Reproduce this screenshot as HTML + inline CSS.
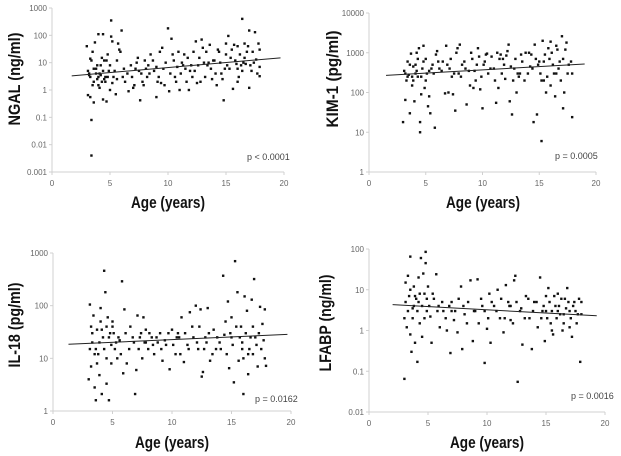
<!DOCTYPE html>
<html><head><meta charset="utf-8"><style>
html,body{margin:0;padding:0;background:#fff;}
svg{display:block;font-family:"Liberation Sans",sans-serif;}
</style></head><body>
<svg id="fig" width="621" height="456" viewBox="0 0 621 456" xmlns="http://www.w3.org/2000/svg"></svg>
<script>
const xTicks=[0,5,10,15,20];
const ngalAge=[3.0,3.1,3.2,3.3,3.3,3.4,3.4,3.5,3.5,3.6,3.7,3.8,3.9,4.0,4.0,4.1,4.2,4.3,4.4,4.4,4.5,4.6,4.7,4.8,4.9,5.0,5.1,5.1,5.2,5.3,5.5,5.6,5.7,5.9,6.0,6.1,6.3,6.6,6.8,7.0,7.2,7.4,7.6,7.7,7.9,8.0,8.2,8.5,8.8,9.0,9.1,9.3,9.5,9.7,9.8,10.0,10.1,10.3,10.4,10.6,10.8,11.0,11.2,11.4,11.6,11.8,12.0,12.2,12.4,12.5,12.7,12.9,13.0,13.2,13.4,13.6,13.8,14.0,14.2,14.4,14.6,14.8,15.0,15.2,15.3,15.5,15.6,15.8,16.0,16.1,16.3,16.4,16.6,16.8,17.0,17.0,17.2,17.4,17.5,17.8,17.9,17.9,3.2,3.6,4.1,4.3,4.6,5.4,6.5,8.3,11.5,13.5,15.9,16.5,17.6,14.9,12.3,
3.1,3.3,3.4,3.6,3.8,3.9,4.0,4.2,4.4,4.5,4.7,4.8,5.0,5.2,5.6,5.8,6.2,6.9,7.1,7.3,7.5,7.8,8.1,8.4,8.7,9.0,9.2,9.4,9.6,10.2,10.5,10.7,10.9,11.1,11.3,11.7,11.9,12.1,12.6,12.8,13.1,13.3,13.7,13.9,14.1,14.3,14.5,14.7,15.1,15.4,15.7,16.0,16.2,16.4,16.7,16.9,17.1,17.3,17.7,17.9,15.0,16.6,16.0];
const ngalValue=[40,0.65,4,14,0.55,0.08,0.004,25,1.5,0.35,55,6,2.5,110,3,1.2,8,15,110,0.45,12,2,0.38,20,5,1,350,90,60,3,0.7,12,50,25,150,3,2,0.9,8,1.2,6,15,0.42,4,1.5,12,3,20,5,0.55,2,25,35,1.5,10,180,0.9,75,20,3,7,1,10,20,2,1,8,25,60,1.8,15,70,35,3,8,45,2.5,12,1.5,25,4,0.42,20,95,6,30,1.1,12,40,3,8,400,15,25,150,1.2,5,10,130,50,3.2,7,3.5,6,4,2,3,5,4,8,6,10,9,10,13,6,5,
5,3,12,2,4,8,1.5,3.5,5,2.5,12,3,8,1.8,2.5,30,6,3,1.5,10,5,2,6,4,12,7,3,1.8,6,4,12,2,25,4,8,15,5,3,8,2,10,25,6,12,4,30,10,2.5,8,15,45,6,20,5,9,40,8,25,4,30,50,50,2];
const kimAge=[3.0,3.1,3.2,3.3,3.4,3.5,3.6,3.7,3.8,3.9,4.0,4.1,4.2,4.3,4.4,4.5,4.5,4.6,4.7,4.8,4.9,5.0,5.1,5.2,5.3,5.4,5.6,5.8,5.9,6.0,6.2,6.5,6.7,6.8,7.0,7.2,7.4,7.5,7.6,7.8,8.0,8.1,8.4,8.6,8.8,9.0,9.2,9.4,9.6,9.8,10.0,10.1,10.3,10.5,10.8,11.0,11.2,11.4,11.6,11.8,12.0,12.2,12.3,12.4,12.6,12.8,13.0,13.2,13.5,13.8,14.0,14.3,14.5,14.6,14.8,15.0,15.2,15.3,15.4,15.6,15.8,16.0,16.2,16.4,16.6,16.8,17.0,17.1,17.2,17.4,17.6,17.9,17.9,15.5,16.5,14.2,4.2,3.8,5.5,9.5,11.5,13.3,
3.2,3.4,3.6,3.9,4.1,4.3,4.6,4.8,5.0,5.3,5.7,6.1,6.4,6.9,7.1,7.3,7.7,7.9,8.2,8.5,8.9,9.1,9.3,9.7,9.9,10.2,10.4,10.7,11.1,11.3,11.7,11.9,12.1,12.5,12.7,12.9,13.1,13.4,13.7,14.1,14.4,14.7,15.1,15.4,15.7,15.9,16.1,16.3,16.5,16.7,16.9,17.1,17.3,17.5,17.8,15.2,14.9,16.0];
const kimValue=[18,350,65,200,600,280,30,950,150,450,60,500,1000,250,1300,18,10,90,400,1500,130,700,300,45,80,30,500,13,900,1100,400,600,95,1500,100,700,90,300,35,1300,1600,250,600,50,350,1000,130,200,1300,120,40,500,900,300,800,400,55,130,900,700,220,1100,1600,60,28,400,100,250,600,1000,300,900,18,1600,28,600,6,2000,200,100,1300,1900,500,80,1200,600,2600,40,100,1800,500,24,300,900,300,450,350,250,400,500,700,300,
300,250,500,200,300,700,250,600,200,350,300,600,350,500,400,250,1000,300,500,400,150,700,350,800,250,600,950,400,200,1000,300,500,850,450,200,700,300,900,200,1000,400,700,300,600,250,700,1000,300,1500,400,200,700,1200,300,600,200,500,150];
const ilAge=[3.0,3.1,3.2,3.3,3.4,3.5,3.6,3.7,3.8,3.9,4.0,4.1,4.2,4.3,4.4,4.5,4.6,4.7,4.8,4.9,5.0,5.2,5.4,5.6,5.8,5.9,6.0,6.2,6.5,6.8,6.9,7.0,7.1,7.3,7.5,7.6,7.8,8.0,8.3,8.5,8.8,9.0,9.2,9.5,9.8,10.0,10.3,10.6,10.8,11.0,11.3,11.5,11.7,12.0,12.2,12.4,12.5,12.6,12.8,13.0,13.2,13.5,13.7,14.0,14.3,14.5,14.7,14.8,15.0,15.2,15.3,15.5,15.6,15.8,16.0,16.1,16.3,16.4,16.5,16.7,16.9,17.0,17.2,17.4,17.6,17.8,17.9,17.8,3.6,4.5,5.5,7.8,10.5,12.9,15.9,16.8,
3.1,3.3,3.5,3.7,3.9,4.1,4.3,4.5,4.7,4.9,5.1,5.3,5.7,6.1,6.4,6.7,7.2,7.4,7.7,8.1,8.4,8.7,9.1,9.4,9.7,10.1,10.4,10.7,11.1,11.4,11.8,12.1,12.3,12.7,13.1,13.4,13.8,14.1,14.4,14.6,14.9,15.1,15.4,15.7,15.9,16.2,16.4,16.6,16.8,17.1,17.3,17.5,17.7,3.2,4.0,5.0,15.0,16.0];
const ilValue=[4,105,7,20,65,2.8,1.6,35,12,4.8,90,2.1,25,460,180,3.3,60,1.6,30,8,50,15,10,22,290,5.2,85,8,40,20,2.1,6,65,25,10,60,35,15,25,12,20,30,9,18,6.2,35,12,25,60,8.5,18,75,40,100,15,85,4.5,5.5,25,90,9,35,15,20,370,50,120,6.5,25,3.5,700,180,9,40,2.1,150,80,5,15,130,320,25,7,95,45,85,7.2,10,15,40,25,20,30,20,20,12,
15,30,12,8,20,35,15,10,25,18,30,20,12,30,15,25,15,30,20,30,18,25,15,22,30,18,25,12,30,15,25,20,40,15,30,12,25,15,28,12,30,18,40,25,15,30,12,25,40,18,30,15,22,40,50,40,60,10];
const lfAge=[3.0,3.0,3.1,3.2,3.3,3.4,3.5,3.5,3.6,3.7,3.8,3.9,4.0,4.1,4.2,4.3,4.4,4.5,4.6,4.7,4.8,4.8,4.9,5.0,5.2,5.3,5.5,5.7,5.9,6.0,6.3,6.6,6.9,7.0,7.2,7.5,7.8,7.9,8.0,8.3,8.6,8.8,9.0,9.2,9.5,9.8,10.0,10.2,10.3,10.6,10.9,11.1,11.4,11.6,11.8,12.0,12.3,12.4,12.6,12.8,13.0,13.3,13.6,13.8,14.0,14.3,14.5,14.7,14.9,15.0,15.2,15.4,15.6,15.8,16.0,16.2,16.4,16.6,16.8,17.0,17.2,17.4,17.6,17.8,17.9,18.0,3.8,4.2,9.8,15.5,16.5,12.0,7.0,
3.1,3.3,3.5,3.7,3.9,4.1,4.3,4.5,4.7,4.9,5.1,5.4,5.8,6.2,6.5,6.8,7.3,7.6,8.1,8.4,8.9,9.3,9.6,10.1,10.4,10.8,11.2,11.5,11.9,12.2,12.5,12.9,13.2,13.5,13.9,14.2,14.6,14.8,15.1,15.3,15.5,15.7,15.9,16.1,16.3,16.5,16.7,16.9,17.1,17.3,17.5,17.7,18.0,15.0,16.0,17.0];
const lfValue=[2,0.065,15,1.2,22,7,65,0.8,0.3,3.5,12,0.5,6,0.17,20,1.5,60,0.7,25,8,85,45,3,12,2.2,0.5,6,24,4,1.2,3,1,0.28,5,1.8,0.9,12,0.35,4,1.5,17,0.55,3,18,6,0.16,1.1,8,0.5,4,10,2,0.9,13,5,1.8,17,22,0.055,3,0.45,7,2,0.35,5,1.2,20,3,0.55,7,11,1.5,0.8,4,8,2.5,1,6,11,3,0.7,5,1.5,6,0.17,2.5,4,5,3,3,2.5,4,3,
5,3,10,2,7,3,8,4,2,6,4,8,3,5,2,4,3,6,2.5,5,3,1.5,4,2,5,3,6,2,4,1.5,5,3.5,2,6,3,5,2,4,2,5,1,7,2,4,6,1.5,3.5,5,2,4,3,2.5,5,3,3,1.2];
const trendX=[[1.7,19.7],[1.5,19],[1.3,19.7],[2,19.3]];
const trendY=[[3.3,15],[270,520],[18.5,28.5],[4.3,2.3]];

const panels=[
 {name:'ngal',ages:ngalAge,vals:ngalValue,x0:52,x1:284,yT:8,yB:172,lmin:-3,lmax:3,yt:['0.001','0.01','0.1','1','10','100','1000'],title:'NGAL (ng/ml)',tx:14,ty:79,tl:93,px:247,py:160,p:'p < 0.0001',ax:168,ay:208},
 {name:'kim1',ages:kimAge,vals:kimValue,x0:369,x1:596,yT:13,yB:172,lmin:0,lmax:4,yt:['1','10','100','1000','10000'],title:'KIM-1 (pg/ml)',tx:332,ty:79,tl:97,px:555,py:159,p:'p = 0.0005',ax:483,ay:208},
 {name:'il18',ages:ilAge,vals:ilValue,x0:53,x1:291,yT:253,yB:411,lmin:0,lmax:3,yt:['1','10','100','1000'],title:'IL-18  (pg/ml)',tx:14,ty:325,tl:85,px:255,py:402,p:'p = 0.0162',ax:172,ay:448},
 {name:'lfabp',ages:lfAge,vals:lfValue,x0:369,x1:605,yT:249,yB:412,lmin:-2,lmax:2,yt:['0.01','0.1','1','10','100'],title:'LFABP (ng/ml)',tx:325,ty:323,tl:97,px:571,py:399,p:'p = 0.0016',ax:487,ay:448}
];
const NS='http://www.w3.org/2000/svg';
const svg=document.getElementById('fig');
function mk(tag,attrs,parent){const e=document.createElementNS(NS,tag);for(const k in attrs)e.setAttribute(k,attrs[k]);parent.appendChild(e);return e;}
panels.forEach((P,pi)=>{
 const g=mk('g',{},svg);
 
 
 const sx=v=>P.x0+(v-0)/20*(P.x1-P.x0);
 const sy=v=>P.yB-(Math.log10(v)-P.lmin)/(P.lmax-P.lmin)*(P.yB-P.yT);
 const ya=mk('line',{x1:P.x0,y1:P.yT,x2:P.x0,y2:P.yB,stroke:'#d0d0d0','stroke-width':1},g);
 
 
 const xa=mk('line',{x1:P.x0,y1:P.yB,x2:P.x1,y2:P.yB,stroke:'#d0d0d0','stroke-width':1},g);
 
 
 P.yt.forEach((t,i)=>{
  const y=sy(Math.pow(10,P.lmin+i));
  mk('line',{x1:P.x0-3,y1:y,x2:P.x0,y2:y,stroke:'#d0d0d0'},g);
  const tx=mk('text',{x:P.x0-5,y:y+3,'text-anchor':'end','font-size':8,fill:'#666'},g);
  tx.textContent=t;
  
  
 });
 xTicks.forEach(t=>{
  const x=sx(t);
  mk('line',{x1:x,y1:P.yB,x2:x,y2:P.yB+3,stroke:'#d0d0d0'},g);
  const tx=mk('text',{x:x,y:P.yB+14,'text-anchor':'middle','font-size':8,fill:'#666'},g);
  tx.textContent=t;
  
  
 });
 P.ages.forEach((a,i)=>{
  const r=mk('rect',{x:sx(a)-1.2,y:sy(P.vals[i])-1.2,width:2.4,height:2.4,fill:'#111'},g);
  
  
 });
 const tl=mk('line',{x1:sx(trendX[pi][0]),y1:sy(trendY[pi][0]),x2:sx(trendX[pi][1]),y2:sy(trendY[pi][1]),stroke:'#222','stroke-width':1},g);
 
 
 const pt=mk('text',{x:P.px,y:P.py,'font-size':9,fill:'#444'},g);
 pt.textContent=P.p;
 
 
 const yt=mk('text',{x:0,y:0,'text-anchor':'middle','font-size':17,'font-weight':'bold',fill:'#111',transform:`translate(${P.tx+6},${P.ty}) rotate(-90)`,textLength:P.tl,lengthAdjust:'spacingAndGlyphs'},g);
 yt.textContent=P.title;
 
 
 const xt=mk('text',{x:P.ax,y:P.ay,'text-anchor':'middle','font-size':17,'font-weight':'bold',fill:'#111',textLength:74,lengthAdjust:'spacingAndGlyphs'},g);
 xt.textContent='Age (years)';
 
 
});
</script>
</body></html>
